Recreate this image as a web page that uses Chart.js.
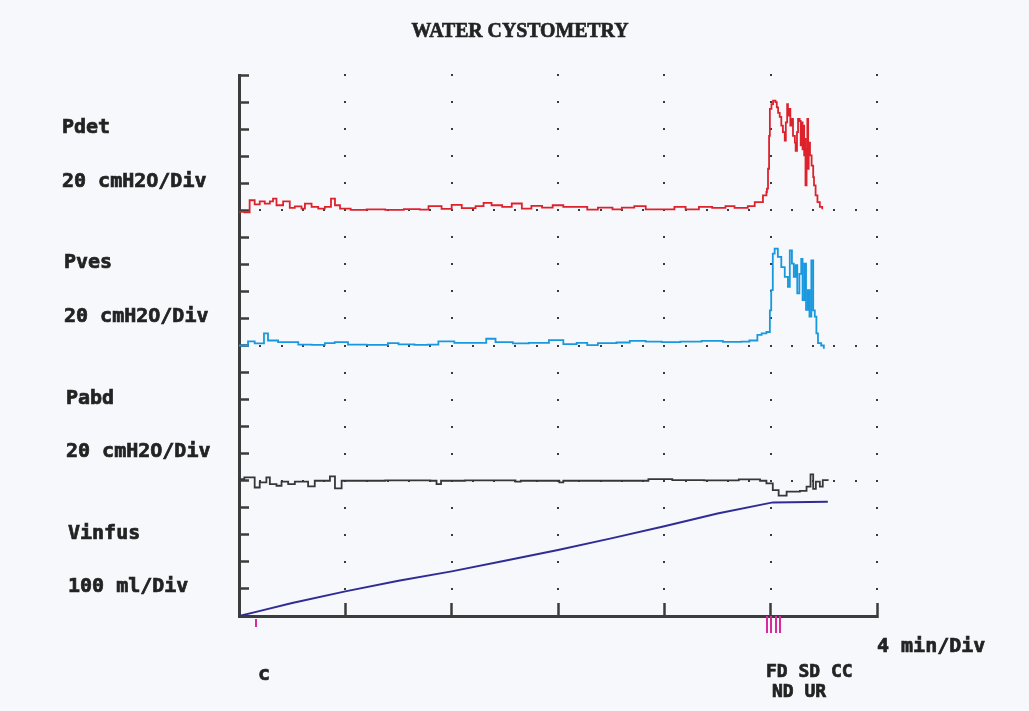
<!DOCTYPE html>
<html>
<head>
<meta charset="utf-8">
<title>Water cystometry</title>
<script src="https://cdn.jsdelivr.net/npm/chart.js@4.4.1/dist/chart.umd.min.js"></script>
<style>
  body { margin: 0; background: #f6f8fc; }
  #wrap { width: 1029px; height: 711px; }
</style>
</head>
<body>
<div id="wrap"><canvas id="myChart" width="1029" height="711"></canvas></div>
<script>
// [time in min, value]  pressures in cmH2O, volume in ml
const pdetTrace = [[0,-1.2],[0.21,-1.5],[0.40,7.4],[0.59,4.4],[0.78,6.6],[0.97,4.9],[1.16,6.6],[1.28,8.6],[1.41,3.7],[1.66,6.6],[1.91,1.7],[2.10,2.9],[2.35,1.2],[2.48,4.9],[2.73,2.5],[2.98,1.2],[3.23,2.5],[3.46,8.6],[3.61,3.7],[3.80,1.2],[4.2,0.3],[4.8,0.6],[5.5,0.3],[6.2,0.8],[6.8,0.4],[7.13,3],[7.62,1],[8.0,4],[8.38,1.5],[8.9,3],[9.2,5.5],[9.5,3.7],[9.9,2.5],[10.26,5],[10.64,1.2],[11.0,3.2],[11.4,2],[11.8,3.7],[12.2,2.5],[12.7,2.5],[13.1,0.5],[13.5,2],[14.05,0.7],[14.4,2],[14.87,3],[15.3,0.7],[15.8,0.7],[16.38,2.5],[16.8,0.7],[17.3,2.5],[17.8,1.7],[18.3,3],[18.64,1.7],[19.14,3],[19.40,6],[19.65,6],[19.71,11],[19.84,13.5],[19.86,16],[19.90,30.7],[19.94,55],[19.97,75],[20.03,78.5],[20.09,81],[20.15,81],[20.18,80],[20.23,76],[20.28,72],[20.34,69],[20.40,62.6],[20.46,57.7],[20.53,51.5],[20.57,65],[20.62,78.5],[20.65,70],[20.69,75],[20.74,62.6],[20.78,67.5],[20.84,55],[20.91,50],[20.94,44],[20.99,57.7],[21.03,67.5],[21.09,66],[21.13,48],[21.16,65],[21.20,45],[21.22,62.6],[21.26,40.5],[21.28,52.8],[21.31,18.4],[21.35,45],[21.38,67.5],[21.41,30.7],[21.43,50],[21.48,40.5],[21.54,33],[21.60,24.5],[21.63,18.4],[21.69,11],[21.76,6],[21.85,2.5],[21.94,0.7]];
const pvesTrace = [[0,0],[0.34,3],[0.59,1.5],[0.94,9],[1.09,3.7],[1.47,2.5],[1.85,2.5],[2.23,0.7],[2.73,0.5],[3.23,1.7],[3.6,2.5],[4.1,0.7],[4.8,0.5],[5.6,1.7],[6.0,0.8],[6.6,0.5],[7.1,0.6],[7.5,3],[8.1,2],[8.6,2],[9.3,5],[9.65,2.5],[10.3,1.5],[10.9,2],[11.66,4],[12.2,1],[12.7,2],[13.1,0.3],[13.5,1.7],[14.2,2.2],[14.7,3.4],[15.3,2.9],[15.9,2.5],[16.6,2.9],[17.4,3.4],[18.2,2.7],[18.9,2.9],[19.2,3.7],[19.5,7.8],[19.66,9],[19.84,10],[19.97,26],[20.02,41],[20.08,68],[20.15,71.6],[20.27,65.5],[20.4,58],[20.53,50.8],[20.65,43.4],[20.72,70.4],[20.8,60.6],[20.87,50.8],[20.94,59.4],[21.0,38.5],[21.08,53],[21.15,64],[21.2,33.6],[21.27,60.6],[21.33,26.3],[21.4,41],[21.46,21.4],[21.53,63],[21.6,26],[21.66,21.4],[21.72,9],[21.78,1.7],[21.9,0],[22.0,-2.4]];
const pabdTrace = [[0,1.2],[0.2,2.5],[0.59,-5],[0.78,-1.2],[1.03,2.5],[1.16,-2.5],[1.41,-3.7],[1.6,-0.7],[1.85,-2.5],[2.1,-0.7],[2.6,-4.2],[2.85,0],[3.42,3.2],[3.61,-5.6],[3.86,0],[5.5,0.3],[7.2,0],[7.43,-2.5],[7.6,0],[8.5,0.3],[10.4,-0.7],[10.6,0],[12.05,-1.2],[12.2,0],[14,0],[15.4,1.2],[16.3,0.5],[17.5,0.3],[18.8,1],[19.6,0],[19.84,-2],[20.08,-6.9],[20.3,-11],[20.6,-8],[21.1,-7.5],[21.35,-4.4],[21.5,4.7],[21.6,-6],[21.7,-0.7],[21.85,-4.4],[21.96,0.5],[22.15,0]];
const vinfusTrace = [[0,0],[0.72,17],[2,48],[4,91],[6,130],[8,165],[10,204],[12,244],[14,287],[16,332],[18,379],[20.08,420],[22.15,422]];

const channelNames = ['Pdet', 'Pves', 'Pabd', 'Vinfus'];
const channelUnits = ['20 cmH2O/Div', '20 cmH2O/Div', '20 cmH2O/Div', '100 ml/Div'];
const channelBaseDiv = [15, 10, 5, 0];   // division where each trace has its zero
const gridColumns = [4, 8, 12, 16, 20, 24];
const startMark = [0.64];                 // "c"
const eventMarks = [19.86, 20.03, 20.19, 20.34];

function toPoints(arr){
  return arr.map(p => ({x: p[0], y: p[1]}));
}

// heavy printer-like text: fill plus a thin stroke
function heavyText(ctx, s, x, y){
  ctx.fillText(s, x, y);
  ctx.strokeText(s, x, y);
}

const dotGrid = {
  id: 'dotGrid',
  beforeDatasetsDraw(chart){
    const ctx = chart.ctx;
    const xs = chart.scales.x, ds = chart.scales.div;
    ctx.save();
    ctx.fillStyle = '#3a3a3a';
    gridColumns.forEach(t => {
      for(let d = 1; d <= 20; d++){
        ctx.fillRect(Math.round(xs.getPixelForValue(t)) - 1, Math.round(ds.getPixelForValue(d)) - 1, 2, 2);
      }
    });
    // fine dotted rows on each channel zero line
    channelBaseDiv.forEach(b => {
      if(b === 0) return;
      for(let t = 0.8; t <= 24.01; t += 0.8){
        ctx.fillRect(Math.round(xs.getPixelForValue(t)) - 1, Math.round(ds.getPixelForValue(b)) - 1, 2, 2);
      }
    });
    ctx.restore();
  }
};

const textAndMarks = {
  id: 'textAndMarks',
  afterDraw(chart){
    const ctx = chart.ctx;
    const xs = chart.scales.x, ds = chart.scales.div;
    const bottom = chart.chartArea.bottom;
    ctx.save();
    ctx.fillStyle = '#232323';
    ctx.strokeStyle = '#232323';
    ctx.lineWidth = 0.7;
    // title
    ctx.save();
    ctx.translate(520, 37);
    ctx.scale(0.9, 1);
    ctx.font = 'bold 22px "Liberation Serif", serif';
    ctx.textAlign = 'center';
    heavyText(ctx, 'WATER CYSTOMETRY', 0, 0);
    ctx.restore();

    ctx.font = 'bold 20px "DejaVu Sans Mono", monospace';
    ctx.textAlign = 'left';
    for(let i = 0; i < channelNames.length; i++){
      const lx = 62 + 2 * i;
      heavyText(ctx, channelNames[i], lx, ds.getPixelForValue(channelBaseDiv[i] + 2.85));
      heavyText(ctx, channelUnits[i], lx, ds.getPixelForValue(channelBaseDiv[i] + 0.87));
    }
    heavyText(ctx, '4 min/Div', xs.right, bottom + 36);
    startMark.forEach(t => {
      heavyText(ctx, 'c', Math.round(xs.getPixelForValue(t)) + 2, bottom + 64);
    });
    const ex = xs.getPixelForValue(eventMarks[0]);
    ctx.font = 'bold 18px "DejaVu Sans Mono", monospace';
    heavyText(ctx, 'FD SD CC', ex - 1, bottom + 61);
    heavyText(ctx, 'ND UR', ex + 5, bottom + 81);

    // event markers
    ctx.strokeStyle = '#d62a9e';
    ctx.lineWidth = 2;
    startMark.forEach(t => {
      const px = Math.round(xs.getPixelForValue(t));
      ctx.beginPath(); ctx.moveTo(px, bottom + 3); ctx.lineTo(px, bottom + 11); ctx.stroke();
    });
    eventMarks.forEach(t => {
      const px = Math.round(xs.getPixelForValue(t));
      ctx.beginPath(); ctx.moveTo(px, bottom); ctx.lineTo(px, bottom + 17); ctx.stroke();
    });
    ctx.restore();
  }
};

const ctx = document.getElementById('myChart');
const myChart = new Chart(ctx, {
  type: 'line',
  data: {
    datasets: [
      { label: 'Pdet', data: toPoints(pdetTrace), yAxisID: 'pdet', borderColor: 'rgb(222,34,44)', borderWidth: 1.8, stepped: true },
      { label: 'Pves', data: toPoints(pvesTrace), yAxisID: 'pves', borderColor: 'rgb(24,152,222)', borderWidth: 1.8, stepped: true },
      { label: 'Pabd', data: toPoints(pabdTrace), yAxisID: 'pabd', borderColor: 'rgb(55,55,55)', borderWidth: 1.8, stepped: true },
      { label: 'Vinfus', data: toPoints(vinfusTrace), yAxisID: 'vinf', borderColor: 'rgb(48,44,150)', borderWidth: 2 }
    ]
  },
  options: {
    responsive: false,
    animation: false,
    layout: { padding: { left: 239, right: 152, top: 75, bottom: 95 } },
    elements: { point: { radius: 0 }, line: { tension: 0 } },
    plugins: { legend: { display: false }, tooltip: { enabled: false } },
    scales: {
      x: {
        type: 'linear', min: 0, max: 24,
        ticks: { display: false, stepSize: 4 },
        grid: { drawOnChartArea: false, drawTicks: true, tickLength: -13, tickWidth: 2.5, tickColor: '#3c3c3c' },
        border: { color: '#3c3c3c', width: 3 },
        afterFit(scale){ scale.height = 0; }
      },
      div: {
        type: 'linear', position: 'left', min: 0, max: 20,
        ticks: { display: false, stepSize: 1, maxTicksLimit: 21 },
        grid: { drawOnChartArea: false, drawTicks: true, tickLength: -10, tickWidth: 2.5, tickColor: '#3c3c3c' },
        border: { color: '#3c3c3c', width: 3 },
        afterFit(scale){ scale.width = 0; }
      },
      pdet: { display: false, min: -300, max: 100 },
      pves: { display: false, min: -200, max: 200 },
      pabd: { display: false, min: -100, max: 300 },
      vinf: { display: false, min: 0, max: 2000 }
    }
  },
  plugins: [dotGrid, textAndMarks]
});
</script>
</body>
</html>
